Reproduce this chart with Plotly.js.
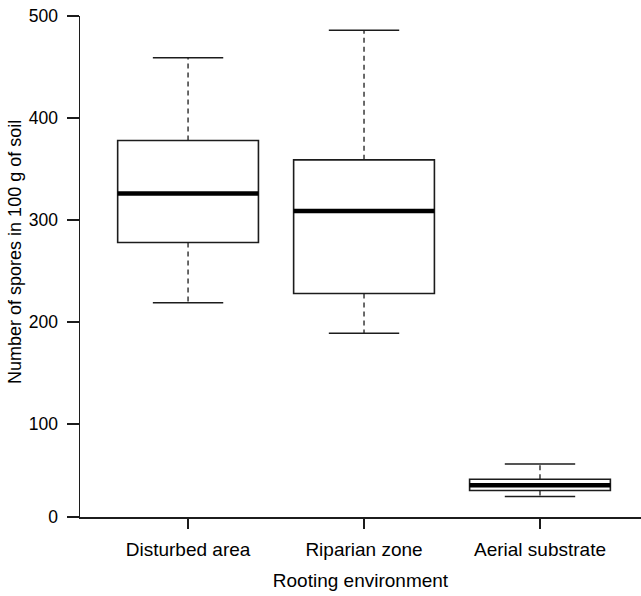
<!DOCTYPE html>
<html>
<head>
<meta charset="utf-8">
<script src="https://cdn.plot.ly/plotly-3.0.1.min.js"></script>
<style>html,body{margin:0;padding:0;background:#fff}#chart{width:641px;height:596px}</style>
</head>
<body>
<div id="chart"></div>
<script>
// Data
const categories = ["Disturbed area", "Riparian zone", "Aerial substrate"];
const positions = [1, 2, 3];
const lowerWhisker = [219, 189, 29];
const q1Values = [278, 228, 35];
const medianValues = [326, 309, 40];
const q3Values = [378, 359, 46];
const upperWhisker = [459, 486, 61];
const yTickValues = [9, 100, 200, 300, 400, 500];
const yTickLabels = ["0", "100", "200", "300", "400", "500"];
const xTitle = "Rooting environment";
const yTitle = "Number of spores in 100 g of soil";

const LINE = "#1c1c1c";
const BOXW = 0.8, CAPW = 0.4;
const traces = [];

// dashed whiskers
const wx = [], wy = [];
positions.forEach((p, i) => {
  wx.push(p, p, null, p, p, null);
  wy.push(q3Values[i], upperWhisker[i], null, q1Values[i], lowerWhisker[i], null);
});
traces.push({type: "scatter", mode: "lines", x: wx, y: wy, hoverinfo: "skip",
  line: {color: LINE, width: 1.3, dash: "5px,4px"}, showlegend: false});

// whisker caps
const cx = [], cy = [];
positions.forEach((p, i) => {
  cx.push(p - CAPW / 2, p + CAPW / 2, null, p - CAPW / 2, p + CAPW / 2, null);
  cy.push(upperWhisker[i], upperWhisker[i], null, lowerWhisker[i], lowerWhisker[i], null);
});
traces.push({type: "scatter", mode: "lines", x: cx, y: cy, hoverinfo: "skip",
  line: {color: LINE, width: 1.5}, showlegend: false});

// boxes (no whiskers: fences at the quartiles)
traces.push({type: "box", x: positions, q1: q1Values, median: medianValues, q3: q3Values,
  lowerfence: q1Values, upperfence: q3Values, width: BOXW, whiskerwidth: 0,
  fillcolor: "rgba(255,255,255,0)", line: {color: LINE, width: 1.6},
  boxpoints: false, showlegend: false, hoverinfo: "skip"});

// thick medians
const mx = [], my = [];
positions.forEach((p, i) => {
  mx.push(p - BOXW / 2, p + BOXW / 2, null);
  my.push(medianValues[i], medianValues[i], null);
});
traces.push({type: "scatter", mode: "lines", x: mx, y: my, hoverinfo: "skip",
  line: {color: "#000", width: 4.5}, showlegend: false});

const FONT = "Liberation Sans, Arial, sans-serif";
const layout = {
  width: 641, height: 596,
  margin: {l: 80, r: 0, t: 16, b: 79},
  paper_bgcolor: "#fff", plot_bgcolor: "#fff",
  font: {family: FONT, size: 17, color: "#000"},
  showlegend: false,
  xaxis: {
    range: [0.386, 3.574], tickvals: positions, ticktext: categories,
    tickfont: {size: 19},
    showgrid: false, zeroline: false, showline: true, linecolor: LINE, linewidth: 1.5,
    ticks: "outside", ticklen: 10, tickwidth: 1.5, tickcolor: LINE,
    ticklabelstandoff: 5,
    title: {text: xTitle, font: {size: 19}, standoff: 14}
  },
  yaxis: {
    range: [9, 500], tickvals: yTickValues, ticktext: yTickLabels,
    tickfont: {size: 17.5},
    showgrid: false, zeroline: false, showline: true, linecolor: LINE, linewidth: 1.5,
    ticks: "outside", ticklen: 12, tickwidth: 1.5, tickcolor: LINE,
    ticklabelstandoff: 5
  },
  annotations: [{
    text: yTitle, xref: "paper", yref: "paper", x: -0.1159, y: 0.529,
    xanchor: "center", yanchor: "middle", textangle: -90, showarrow: false,
    font: {size: 18, family: FONT, color: "#000"}
  }]
};
Plotly.newPlot("chart", traces, layout, {displayModeBar: false, staticPlot: true});
</script>
</body>
</html>
